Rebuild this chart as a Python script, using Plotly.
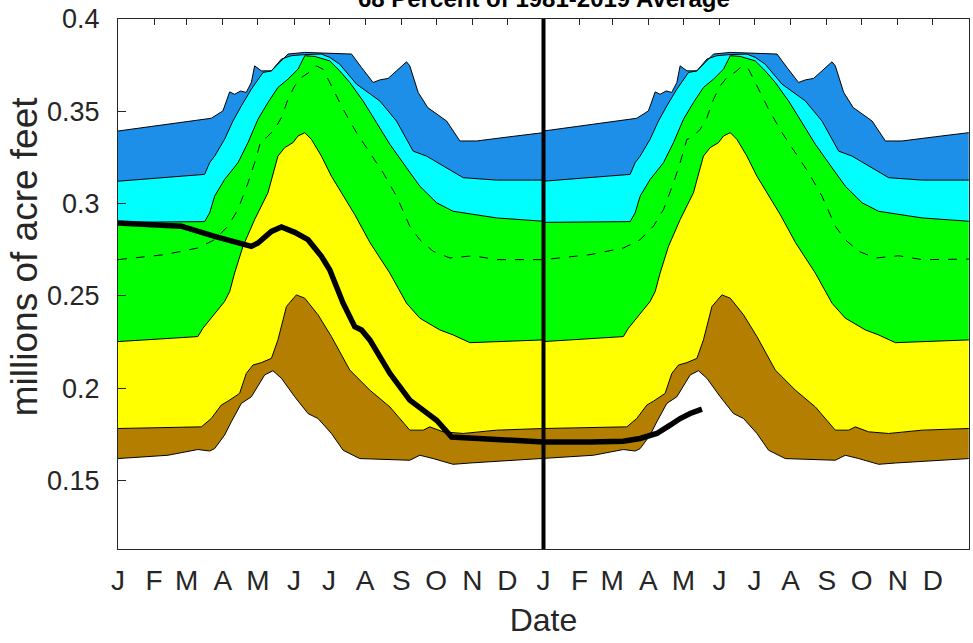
import plotly.graph_objects as go

# percentile curves for one year (day of year -> millions of acre feet)
max_day = [0, 80, 90, 95.8, 100, 105.2, 110, 114.4, 117.2, 123, 131.6, 138.7, 145.8, 160.2, 185.9,
           200.3, 208.9, 218.8, 224.6, 231.7, 238.9, 247.5, 250.3, 257.5, 265.7, 281.9, 293.3, 307.6, 336.2, 364.8]
max_val = [0.3393, 0.3462, 0.3502, 0.3605, 0.3592, 0.3610, 0.3602, 0.3656, 0.3746, 0.3719, 0.3719, 0.3765, 0.3810, 0.3819, 0.3815,
           0.3810, 0.3737, 0.3656, 0.3670, 0.3678, 0.3719, 0.3768, 0.3746, 0.3602, 0.3520, 0.3447, 0.3339, 0.3339, 0.3362, 0.3384]

p90_day = [0, 74.3, 78.6, 82.9, 91.4, 98.6, 105.8, 114.4, 124.4, 131.6, 140.2, 148.7, 157.3, 174.5, 181.6,
           190.2, 204.6, 224.6, 238.9, 253.2, 264.7, 278.9, 296.1, 324.8, 364.8]
p90_val = [0.3121, 0.3158, 0.3221, 0.3257, 0.3348, 0.3447, 0.3529, 0.3620, 0.3710, 0.3719, 0.3783, 0.3801, 0.3806, 0.3810, 0.3792,
           0.3755, 0.3647, 0.3556, 0.3447, 0.3284, 0.3257, 0.3203, 0.3140, 0.3127, 0.3127]

p70_day = [0, 74.3, 78.6, 82.9, 91.4, 102.9, 111.5, 120.1, 128.6, 137.2, 145.8, 154.4, 160.2, 168.8, 181.6,
           190.2, 198.8, 210.2, 221.7, 233.2, 247.5, 258.9, 273.3, 287.5, 324.8, 364.8]
p70_val = [0.2898, 0.2902, 0.2949, 0.3040, 0.3130, 0.3221, 0.3330, 0.3457, 0.3547, 0.3629, 0.3674, 0.3728, 0.3801, 0.3797, 0.3773,
           0.3719, 0.3656, 0.3556, 0.3439, 0.3321, 0.3194, 0.3094, 0.3004, 0.2958, 0.2922, 0.2904]

avg_day = [0, 39.9, 68.5, 82.9, 94.3, 102.9, 111.5, 117.2, 123, 127.3, 134.4, 140.2, 145.8, 151.6, 157.3, 165.9,
           170.2, 175.9, 184.5, 193.1, 204.6, 216, 227.4, 238.9, 250.3, 258.9, 270.4, 284.7, 304.7, 324.8, 364.8]
avg_val = [0.2696, 0.2723, 0.2759, 0.2804, 0.2877, 0.2967, 0.3112, 0.3221, 0.3348, 0.3357, 0.3402, 0.3466, 0.3565, 0.3638, 0.3683, 0.3719,
           0.3746, 0.3728, 0.3620, 0.3511, 0.3384, 0.3276, 0.3167, 0.3040, 0.2877, 0.2804, 0.2741, 0.2705, 0.2717, 0.2696, 0.2699]

p30_day = [0, 68.5, 72.8, 80, 91.4, 95.8, 100, 107.2, 117.2, 128.6, 137.2, 143, 150.1, 154.4, 160.2, 165.9,
           174.5, 183.1, 190.2, 203.1, 216.2, 233.2, 247.5, 258.9, 276.1, 287.5, 301.9, 364.8]
p30_val = [0.2252, 0.2279, 0.2324, 0.2379, 0.2469, 0.2523, 0.2623, 0.2768, 0.2913, 0.3058, 0.3257, 0.3303, 0.3330, 0.3366, 0.3384, 0.3348,
           0.3257, 0.3148, 0.3076, 0.2940, 0.2788, 0.2623, 0.2460, 0.2379, 0.2315, 0.2288, 0.2246, 0.2261]

p10_day = [0, 71.5, 80, 88.6, 94.3, 104.3, 110.1, 115.8, 123, 131.6, 137.2, 144.5, 153, 160.2, 171.6, 183.1,
           198.8, 216, 233.2, 250.3, 261.8, 267.5, 278.9, 296.1, 324.8, 364.8]
p10_val = [0.1781, 0.1790, 0.1835, 0.1908, 0.1929, 0.1971, 0.2080, 0.2125, 0.2138, 0.2161, 0.2261, 0.2442, 0.2505, 0.2487, 0.2397, 0.2279,
           0.2098, 0.1989, 0.1898, 0.1772, 0.1772, 0.1790, 0.1763, 0.1754, 0.1772, 0.1781]

min_day = [0, 42.8, 68.5, 78.6, 82.9, 91.4, 97.2, 105.8, 114.4, 120.1, 125.8, 132.9, 140.2, 151.6, 163, 171.6,
           183.1, 193.1, 207.4, 250.3, 258.9, 270.4, 287.5, 301.9, 364.8]
min_val = [0.1618, 0.1636, 0.1667, 0.1659, 0.1672, 0.1745, 0.1817, 0.1917, 0.1953, 0.2016, 0.2071, 0.2094, 0.2053, 0.1953, 0.1862, 0.1835,
           0.1754, 0.1663, 0.1618, 0.1609, 0.1636, 0.1618, 0.1587, 0.1594, 0.1618]

# current storage, continuous over both years
cur_day = [0, 54.3, 82.9, 97.2, 114.4, 120.1, 131.6, 140.2, 151.6, 163, 174.5, 181.6, 193.1, 203.1, 208.9, 216,
           233.2, 250.3, 261.8, 273.3, 286.2, 310.5, 339.1, 364.8, 404.9, 433.5, 447.8, 462.2, 473.6, 482.2, 490.8, 500.9]
cur_val = [0.2895, 0.2877, 0.2822, 0.2795, 0.2768, 0.2786, 0.2849, 0.2873, 0.2844, 0.2804, 0.2714, 0.2641, 0.2460, 0.2333, 0.2315, 0.2261,
           0.2080, 0.1935, 0.1880, 0.1826, 0.1735, 0.1727, 0.1717, 0.1708, 0.1708, 0.1712, 0.1727, 0.1754, 0.1799, 0.1835, 0.1862, 0.1886]

YEAR = 365
month_start = [0, 31, 59, 90, 120, 151, 181, 212, 243, 273, 304, 334]
month_letters = ['J', 'F', 'M', 'A', 'M', 'J', 'J', 'A', 'S', 'O', 'N', 'D']

title_text = '68 Percent of 1981-2019 Average'
ylabel_text = 'millions of acre feet'


def two_years(days, vals):
    return list(days) + [d + YEAR for d in days], list(vals) + list(vals)


bands = [
    (min_day, min_val, None),
    (p10_day, p10_val, '#B47F00'),
    (p30_day, p30_val, '#FFFF00'),
    (p70_day, p70_val, '#00FF00'),
    (p90_day, p90_val, '#00FFFF'),
    (max_day, max_val, '#1E8FE8'),
]

fig = go.Figure()
for days, vals, color in bands:
    x, y = two_years(days, vals)
    fig.add_trace(go.Scatter(
        x=x, y=y, mode='lines', line=dict(color='black', width=1),
        fill='tonexty' if color else 'none', fillcolor=color, hoverinfo='skip',
    ))

ax, ay = two_years(avg_day, avg_val)
fig.add_trace(go.Scatter(x=ax, y=ay, mode='lines', line=dict(color='black', width=1, dash='dash')))

# second x axis only carries the top tick marks (and the current-year line)
fig.add_trace(go.Scatter(x=cur_day, y=cur_val, mode='lines', xaxis='x2',
                         line=dict(color='black', width=5.5)))

fig.add_vline(x=YEAR, line_color='black', line_width=4)

ticks = month_start + [m + YEAR for m in month_start]
fig.add_annotation(
    text=f'<b>{title_text}</b>', xref='paper', yref='paper', x=0.5, y=1.009,
    xanchor='center', yanchor='bottom', showarrow=False,
    font=dict(size=24, color='black'),
)
fig.add_annotation(
    text=ylabel_text, xref='paper', yref='paper', x=-0.109, y=0.551,
    xanchor='center', yanchor='middle', textangle=-90, showarrow=False,
    font=dict(size=37, color='#262626'),
)

fig.update_layout(
    width=973, height=643,
    margin=dict(l=118, r=4, t=19, b=94),
    paper_bgcolor='white', plot_bgcolor='white',
    showlegend=False,
    font=dict(family='Liberation Sans, Arial', color='#262626', size=24),
    xaxis=dict(
        range=[0, 2 * YEAR], tickvals=ticks, ticktext=month_letters * 2,
        ticks='', showgrid=False, zeroline=False, automargin=False,
        showline=True, linecolor='#262626', linewidth=1, mirror=True,
        tickfont=dict(size=28), ticklabelstandoff=6,
        title=dict(text='Date', font=dict(size=32), standoff=14),
    ),
    xaxis2=dict(
        range=[0, 2 * YEAR], overlaying='x', side='top', anchor='y',
        tickmode='array', tickvals=ticks, showticklabels=False,
        ticks='inside', ticklen=6, tickwidth=1, tickcolor='#262626',
        showgrid=False, zeroline=False, automargin=False,
    ),
    yaxis=dict(
        range=[0.1128, 0.4], dtick=0.05, tick0=0.15,
        ticks='inside', ticklen=8, tickcolor='#262626', mirror=True,
        showline=True, linecolor='#262626', linewidth=1,
        showgrid=False, zeroline=False, automargin=False,
        tickfont=dict(size=27), ticklabelstandoff=12,
    ),
)

fig.write_html('out.html', config={'displayModeBar': False},
               post_script="document.body.style.margin='0';")
